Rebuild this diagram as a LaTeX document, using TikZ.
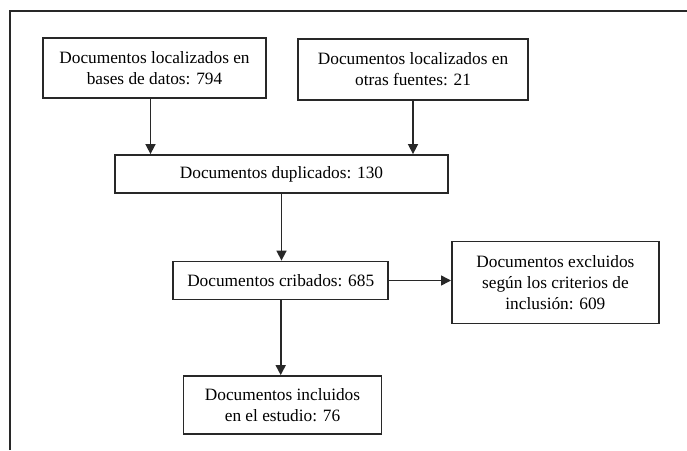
\documentclass[tikz,border=0pt]{standalone}
\usepackage{fontspec}
\setmainfont{Liberation Serif}
\usetikzlibrary{arrows.meta}
\definecolor{linegray}{RGB}{40,40,40}

\begin{document}
\begin{tikzpicture}[x=1pt, y=-1pt,
    stage/.style={draw=linegray, line width=1.8pt, fill=white, align=center, inner sep=0pt, font=\fontsize{17.3}{21}\selectfont},
    flow/.style={draw=linegray, line width=1.6pt, -{Triangle[width=10pt,length=10pt]}}
]
\useasboundingbox (0,0) rectangle (687,450);

\draw[linegray, line width=1.8pt] (10,450) -- (10,11) -- (687,11);

\node[stage, minimum width=223pt, minimum height=60pt] (loc1) at (154.5,68) {Documentos localizados en\\bases de datos: 794};
\node[stage, minimum width=230pt, minimum height=61pt] (loc2) at (413,69.5) {Documentos localizados en\\otras fuentes: 21};
\node[stage, minimum width=333pt, minimum height=38pt] (dup) at (281.5,174) {Documentos duplicados: 130};
\node[stage, minimum width=215pt, minimum height=38pt] (crib) at (280.7,280.5) {Documentos cribados: 685};
\node[stage, minimum width=207pt, minimum height=82pt] (excl) at (555.4,282.5) {Documentos excluidos\\según los criterios de\\inclusión: 609};
\node[stage, minimum width=198pt, minimum height=58pt] (incl) at (282.5,405) {Documentos incluidos\\en el estudio: 76};

\draw[flow] ([xshift=-4pt]loc1.south) -- ([xshift=-4pt]loc1.south |- dup.north);
\draw[flow] (loc2) -- (loc2 |- dup.north);
\draw[flow] (dup) -- (dup |- crib.north);
\draw[flow] (crib) -- (crib -| excl.west);
\draw[flow] (crib) -- (crib |- incl.north);

\end{tikzpicture}
\end{document}
